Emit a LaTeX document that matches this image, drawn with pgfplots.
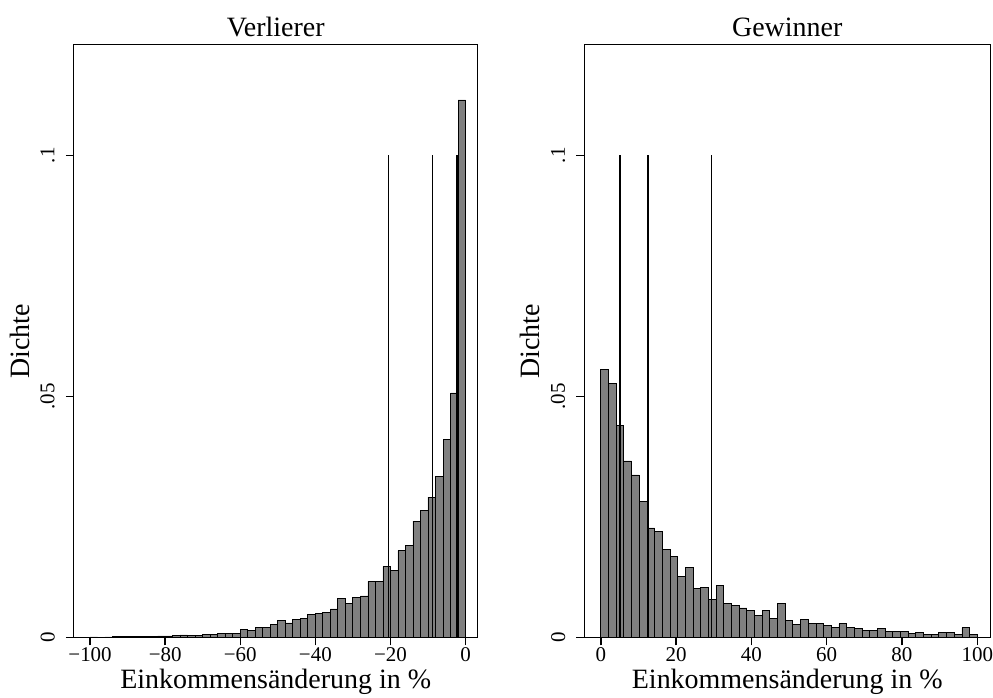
\documentclass[border=0pt]{standalone}
\usepackage{fontspec}
\setmainfont{Liberation Serif}
\usepackage{pgfplots}
\pgfplotsset{compat=1.18}
\definecolor{barfill}{RGB}{128,128,128}

\pgfplotsset{
  hist/.style={
    scale only axis,
    clip=false,
    height=593bp,
    ymin=0, ymax=0.1229,
    ytick={0,0.05,0.1}, yticklabels={0,.05,.1},
    axis line style={black,line width=1.1bp},
    tick align=outside,
    major tick length=8bp,
    every tick/.style={draw=black,line width=1.4bp},
    xtick pos=left, ytick pos=left,
    tick label style={font=\fontsize{21bp}{21bp}\selectfont},
    yticklabel style={rotate=90,anchor=south,inner sep=0pt},
    yticklabel shift=11bp,
    xticklabel style={anchor=north,inner sep=0pt},
    xticklabel shift=2bp,
    label style={font=\fontsize{28bp}{28bp}\selectfont},
    xlabel style={at={(axis description cs:0.5,0)},anchor=base,yshift=-51bp},
    ylabel style={at={(axis description cs:-0.1015,0.5)},anchor=south},
    title style={font=\fontsize{28bp}{28bp}\selectfont,at={(axis description cs:0.5,1)},anchor=base,yshift=2bp},
    xlabel={Einkommensänderung in \%},
    ylabel={Dichte},
  },
  bars/.style={ybar interval,fill=barfill,draw=black,line width=0.8bp},
  vline/.style={black,line width=1.8bp},
}
\tikzset{tk/.style={black,line width=1.4bp}}

\begin{document}
\begin{tikzpicture}
\path (-74bp,-57bp) rectangle (919bp,638bp);

\begin{axis}[hist,
  at={(0bp,0bp)},anchor=south west,
  width=404bp,
  xmin=-104.3,xmax=3.2,
  xtick={-100,-80,-60,-40,-20,0},
  xticklabels={−100,−80,−60,−40,−20,0},
  title={Verlierer}]
\addplot[bars] coordinates {
(-100,0.0001) (-98,0.00003) (-96,0.0001) (-94,0.0002) (-92,0.0002)
(-90,0.00015) (-88,0.00015) (-86,0.00015) (-84,0.0002) (-82,0.0003)
(-80,0.0003) (-78,0.00035) (-76,0.0005) (-74,0.0004) (-72,0.0004)
(-70,0.0006) (-68,0.0007) (-66,0.0008) (-64,0.0008) (-62,0.0008)
(-60,0.0016) (-58,0.0015) (-56,0.0020) (-54,0.0020) (-52,0.0026)
(-50,0.0035) (-48,0.0030) (-46,0.0037) (-44,0.0039) (-42,0.0047)
(-40,0.0049) (-38,0.0052) (-36,0.0059) (-34,0.0080) (-32,0.0070)
(-30,0.0082) (-28,0.0086) (-26,0.0116) (-24,0.0116) (-22,0.0147)
(-20,0.0139) (-18,0.0180) (-16,0.0190) (-14,0.0241) (-12,0.0264)
(-10,0.0291) (-8,0.0334) (-6,0.0411) (-4,0.0507) (-2,0.1115)
(0,0)};
\addplot[vline] coordinates {(-20.5,0) (-20.5,0.1)};
\addplot[vline] coordinates {(-8.8,0) (-8.8,0.1)};
\addplot[vline] coordinates {(-2.3,0) (-2.3,0.1)};
% tick marks, 8bp outside the frame
\pgfplotsinvokeforeach{-100,-80,-60,-40,-20,0}{\draw[tk] (axis cs:#1,0) -- (axis cs:#1,-0.00166);}
\pgfplotsinvokeforeach{0,0.05,0.1}{\draw[tk] (axis cs:-104.3,#1) -- (axis cs:-106.43,#1);}
\end{axis}

\begin{axis}[hist,
  at={(511bp,0bp)},anchor=south west,
  width=406bp,
  xmin=-4.35,xmax=103.4,
  xtick={0,20,40,60,80,100},
  xticklabels={0,20,40,60,80,100},
  title={Gewinner}]
\addplot[bars] coordinates {
(0,0.0555) (2.041,0.0526) (4.082,0.0440) (6.122,0.0366) (8.163,0.0337)
(10.204,0.0282) (12.245,0.0227) (14.286,0.0220) (16.327,0.0182) (18.367,0.0167)
(20.408,0.0126) (22.449,0.0145) (24.490,0.0102) (26.531,0.0103) (28.571,0.0079)
(30.612,0.0107) (32.653,0.0070) (34.694,0.0066) (36.735,0.0061) (38.776,0.0055)
(40.816,0.0045) (42.857,0.0056) (44.898,0.0039) (46.939,0.0070) (48.980,0.0035)
(51.020,0.0027) (53.061,0.0038) (55.102,0.0028) (57.143,0.0028) (59.184,0.0024)
(61.224,0.0020) (63.265,0.0028) (65.306,0.0021) (67.347,0.0019) (69.388,0.0015)
(71.429,0.0015) (73.469,0.0018) (75.510,0.0012) (77.551,0.0012) (79.592,0.0012)
(81.633,0.0008) (83.673,0.0011) (85.714,0.0007) (87.755,0.0007) (89.796,0.0011)
(91.837,0.0010) (93.878,0.0007) (95.918,0.0020) (97.959,0.0007)
(100,0)};
\addplot[vline] coordinates {(5.0,0) (5.0,0.1)};
\addplot[vline] coordinates {(12.6,0) (12.6,0.1)};
\addplot[vline] coordinates {(29.4,0) (29.4,0.1)};
% tick marks, 8bp outside the frame
\pgfplotsinvokeforeach{0,20,40,60,80,100}{\draw[tk] (axis cs:#1,0) -- (axis cs:#1,-0.00166);}
\pgfplotsinvokeforeach{0,0.05,0.1}{\draw[tk] (axis cs:-4.35,#1) -- (axis cs:-6.47,#1);}
\end{axis}
\end{tikzpicture}
\end{document}
